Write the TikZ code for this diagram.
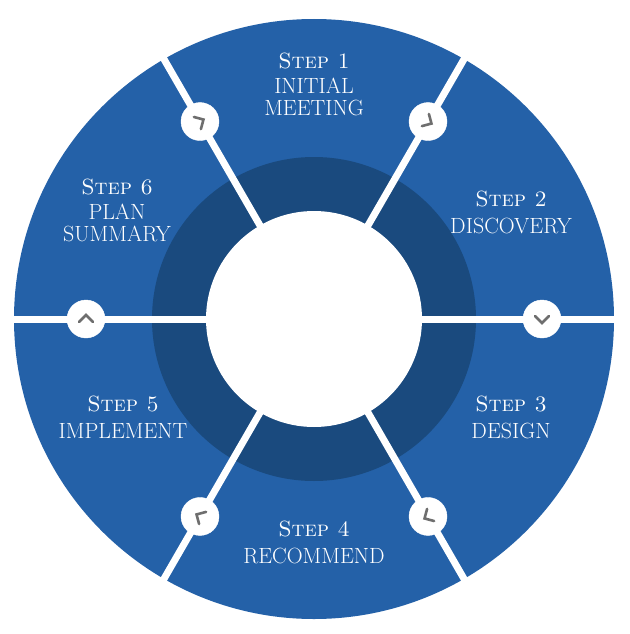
\documentclass[tikz,border=0pt]{standalone}
\usepackage{fontspec}
\usetikzlibrary{calc}
\definecolor{segblue}{HTML}{2461A8}
\definecolor{ringblue}{HTML}{1A4A7E}
\definecolor{chev}{HTML}{6E6E6E}
\tikzset{lbl/.style={text=white,font=\fontsize{22}{27}\selectfont,align=center},
 knob/.style={circle,fill=white,draw=white,minimum size=38pt,inner sep=0pt},
 sep/.style={white,line width=7pt}}
\begin{document}
\begin{tikzpicture}[x=1pt,y=-1pt]
\useasboundingbox (0,0) rectangle (629,634);
\coordinate (c) at (314,319);
\fill[segblue] (c) circle (300);
\fill[ringblue] (c) circle (162);
\fill[white] (c) circle (108);
\foreach \a in {0,60,...,300}{\draw[sep] ($(c)+(\a:100)$) -- ($(c)+(\a:305)$);}
\foreach \a [count=\i] in {0,60,120,180,240,300}{
  \node[knob] (k\i) at ($(c)+(\a:228)$) {};
  \pgfmathsetmacro{\p}{\a+90}
  \draw[chev,line width=2.6pt,line cap=round,line join=miter]
    ($(k\i.center)+(\p:-3)+(\p+90:7)$) -- ($(k\i.center)+(\p:4)$) -- ($(k\i.center)+(\p:-3)+(\p-90:7)$);
}
\node[lbl] (s1) at (314,84) {\textsc{Step 1}\\[-2pt]INITIAL\\[-5pt]MEETING};
\node[lbl] (s2) at (511,212) {\textsc{Step 2}\\DISCOVERY};
\node[lbl] (s3) at (511,417) {\textsc{Step 3}\\DESIGN};
\node[lbl] (s4) at (314,542) {\textsc{Step 4}\\RECOMMEND};
\node[lbl] (s5) at (123,417) {\textsc{Step 5}\\IMPLEMENT};
\node[lbl] (s6) at (117,210) {\textsc{Step 6}\\[-2pt]PLAN\\[-5pt]SUMMARY};
\end{tikzpicture}
\end{document}
